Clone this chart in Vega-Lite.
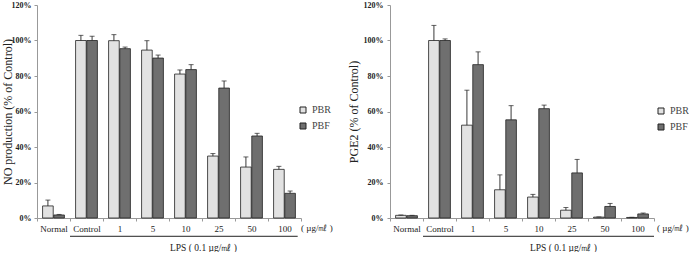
{
  "$schema": "https://vega.github.io/schema/vega-lite/v6.json",
  "padding": {"left": 1, "top": 1, "right": 0, "bottom": 0},
  "background": "white",
  "config": {
    "font": "Liberation Serif",
    "view": {"stroke": null},
    "axis": {"labelFont": "Liberation Serif", "titleFont": "Liberation Serif", "labelColor": "#222", "titleColor": "#222", "domainColor": "#999", "tickColor": "#999", "grid": false},
    "axisY": {"labelOverlap": false, "labelFlush": false, "tickCount": 7, "labelFontSize": 8, "labelFontWeight": "bold", "tickSize": 3},
    "legend": {"labelFont": "Liberation Serif"}
  },
  "datasets": {
    "no": [
      {"dose": "Normal", "sample": "PBR", "value": 6.8, "upper": 10.1},
      {"dose": "Normal", "sample": "PBF", "value": 1.7, "upper": 2.0},
      {"dose": "Control", "sample": "PBR", "value": 100, "upper": 102.9},
      {"dose": "Control", "sample": "PBF", "value": 100, "upper": 102.4},
      {"dose": "1", "sample": "PBR", "value": 99.9, "upper": 103.3},
      {"dose": "1", "sample": "PBF", "value": 95.4, "upper": 96.3},
      {"dose": "5", "sample": "PBR", "value": 94.6, "upper": 99.9},
      {"dose": "5", "sample": "PBF", "value": 90.1, "upper": 91.8},
      {"dose": "10", "sample": "PBR", "value": 81.1, "upper": 83.4},
      {"dose": "10", "sample": "PBF", "value": 83.6, "upper": 86.4},
      {"dose": "25", "sample": "PBR", "value": 34.9, "upper": 36.3},
      {"dose": "25", "sample": "PBF", "value": 73.2, "upper": 77.2},
      {"dose": "50", "sample": "PBR", "value": 28.7, "upper": 34.4},
      {"dose": "50", "sample": "PBF", "value": 46.2, "upper": 47.7},
      {"dose": "100", "sample": "PBR", "value": 27.4, "upper": 29.1},
      {"dose": "100", "sample": "PBF", "value": 13.9, "upper": 15.2}
    ],
    "pge2": [
      {"dose": "Normal", "sample": "PBR", "value": 1.5, "upper": 1.7},
      {"dose": "Normal", "sample": "PBF", "value": 1.3, "upper": 1.5},
      {"dose": "Control", "sample": "PBR", "value": 100, "upper": 108.5},
      {"dose": "Control", "sample": "PBF", "value": 100, "upper": 100.9},
      {"dose": "1", "sample": "PBR", "value": 52.3, "upper": 72.0},
      {"dose": "1", "sample": "PBF", "value": 86.4, "upper": 93.6},
      {"dose": "5", "sample": "PBR", "value": 15.9, "upper": 24.3},
      {"dose": "5", "sample": "PBF", "value": 55.3, "upper": 63.3},
      {"dose": "10", "sample": "PBR", "value": 11.8, "upper": 13.3},
      {"dose": "10", "sample": "PBF", "value": 61.6, "upper": 63.6},
      {"dose": "25", "sample": "PBR", "value": 4.4, "upper": 5.9},
      {"dose": "25", "sample": "PBF", "value": 25.4, "upper": 33.0},
      {"dose": "50", "sample": "PBR", "value": 0.5, "upper": 0.6},
      {"dose": "50", "sample": "PBF", "value": 6.5, "upper": 8.2},
      {"dose": "100", "sample": "PBR", "value": 0.3, "upper": 0.4},
      {"dose": "100", "sample": "PBF", "value": 2.3, "upper": 2.8}
    ]
  },
  "spacing": 14,
  "resolve": {"legend": {"color": "independent"}},
  "hconcat": [
    {
      "width": 264,
      "height": 213,
      "layer": [
        {
          "data": {"name": "no"},
          "mark": {"type": "bar", "stroke": "#222", "strokeWidth": 0.8},
          "encoding": {
            "x": {"field": "dose", "type": "nominal", "scale": {"domain": ["Normal", "Control", "1", "5", "10", "25", "50", "100"], "paddingInner": 0, "paddingOuter": 0},
              "axis": {"title": "LPS ( 0.1 µg/㎖ )", "titleFontSize": 9.5, "titleFontWeight": "normal", "titleX": 166, "titleY": 29, "titleBaseline": "middle", "labelAngle": 0, "labelFontSize": 9, "tickBand": "extent", "tickSize": 3, "labelPadding": 3}},
            "xOffset": {"field": "sample", "type": "nominal", "scale": {"domain": ["PBR", "PBF"], "paddingOuter": 0.5, "paddingInner": 0.05}},
            "y": {"field": "value", "type": "quantitative", "scale": {"domain": [0, 120], "nice": false},
              "axis": {"title": "NO production (% of Control)", "titleFontSize": 12, "titleFontWeight": "normal", "titleX": -30, "titleBaseline": "middle", "values": [0, 20, 40, 60, 80, 100, 120], "labelExpr": "datum.value + '%'", "labelOverlap": false, "labelPadding": 3}},
            "color": {"field": "sample", "type": "nominal", "scale": {"domain": ["PBR", "PBF"], "range": ["#e2e2e2", "#6f6f6f"]},
              "legend": {"title": null, "orient": "none", "legendX": 261, "legendY": 100, "symbolType": "square", "symbolSize": 36, "symbolStrokeColor": "#222", "symbolStrokeWidth": 1, "labelFontSize": 10, "labelColor": "#444", "rowPadding": 6, "labelOffset": 4}}
          }
        },
        {
          "data": {"name": "no"},
          "mark": {"type": "rule", "color": "#222", "strokeWidth": 0.9},
          "encoding": {
            "x": {"field": "dose", "type": "nominal"},
            "xOffset": {"field": "sample", "type": "nominal"},
            "y": {"field": "value", "type": "quantitative"},
            "y2": {"field": "upper"}
          }
        },
        {
          "data": {"name": "no"},
          "mark": {"type": "tick", "color": "#222", "size": 5, "thickness": 1, "orient": "horizontal"},
          "encoding": {
            "x": {"field": "dose", "type": "nominal"},
            "xOffset": {"field": "sample", "type": "nominal"},
            "y": {"field": "upper", "type": "quantitative"}
          }
        },
        {
          "data": {"values": [{}]},
          "mark": {"type": "rule", "color": "#222", "strokeWidth": 1},
          "encoding": {
            "x": {"datum": "Control", "type": "nominal", "bandPosition": 0},
            "x2": {"datum": "100", "bandPosition": 0.9},
            "y": {"datum": -10.3, "type": "quantitative"}
          }
        },
        {
          "data": {"values": [{"unit": "( µg/㎖ )"}]},
          "mark": {"type": "text", "align": "left", "baseline": "middle", "fontSize": 9, "dx": 0, "color": "#222"},
          "encoding": {
            "x": {"datum": "100", "type": "nominal", "bandPosition": 1},
            "y": {"datum": -5.8, "type": "quantitative"},
            "text": {"field": "unit"}
          }
        }
      ]
    },
    {
      "width": 264,
      "height": 213,
      "layer": [
        {
          "data": {"name": "pge2"},
          "mark": {"type": "bar", "stroke": "#222", "strokeWidth": 0.8},
          "encoding": {
            "x": {"field": "dose", "type": "nominal", "scale": {"domain": ["Normal", "Control", "1", "5", "10", "25", "50", "100"], "paddingInner": 0, "paddingOuter": 0},
              "axis": {"title": "LPS ( 0.1 µg/㎖ )", "titleFontSize": 9.5, "titleFontWeight": "normal", "titleX": 173, "titleY": 29, "titleBaseline": "middle", "labelAngle": 0, "labelFontSize": 9, "tickBand": "extent", "tickSize": 3, "labelPadding": 3}},
            "xOffset": {"field": "sample", "type": "nominal", "scale": {"domain": ["PBR", "PBF"], "paddingOuter": 0.5, "paddingInner": 0.05}},
            "y": {"field": "value", "type": "quantitative", "scale": {"domain": [0, 120], "nice": false},
              "axis": {"title": "PGE2 (% of Control)", "titleFontSize": 12, "titleFontWeight": "normal", "titleX": -37, "titleBaseline": "middle", "values": [0, 20, 40, 60, 80, 100, 120], "labelExpr": "datum.value + '%'", "labelOverlap": false, "labelPadding": 4}},
            "color": {"field": "sample", "type": "nominal", "scale": {"domain": ["PBR", "PBF"], "range": ["#e2e2e2", "#6f6f6f"]},
              "legend": {"title": null, "orient": "none", "legendX": 266, "legendY": 101, "symbolType": "square", "symbolSize": 36, "symbolStrokeColor": "#222", "symbolStrokeWidth": 1, "labelFontSize": 10, "labelColor": "#444", "rowPadding": 6, "labelOffset": 4}}
          }
        },
        {
          "data": {"name": "pge2"},
          "mark": {"type": "rule", "color": "#222", "strokeWidth": 0.9},
          "encoding": {
            "x": {"field": "dose", "type": "nominal"},
            "xOffset": {"field": "sample", "type": "nominal"},
            "y": {"field": "value", "type": "quantitative"},
            "y2": {"field": "upper"}
          }
        },
        {
          "data": {"name": "pge2"},
          "mark": {"type": "tick", "color": "#222", "size": 5, "thickness": 1, "orient": "horizontal"},
          "encoding": {
            "x": {"field": "dose", "type": "nominal"},
            "xOffset": {"field": "sample", "type": "nominal"},
            "y": {"field": "upper", "type": "quantitative"}
          }
        },
        {
          "data": {"values": [{}]},
          "mark": {"type": "rule", "color": "#222", "strokeWidth": 1},
          "encoding": {
            "x": {"datum": "Control", "type": "nominal", "bandPosition": 0},
            "x2": {"datum": "100", "bandPosition": 1},
            "y": {"datum": -10.3, "type": "quantitative"}
          }
        },
        {
          "data": {"values": [{"unit": "( µg/㎖ )"}]},
          "mark": {"type": "text", "align": "left", "baseline": "middle", "fontSize": 9, "dx": 3, "color": "#222"},
          "encoding": {
            "x": {"datum": "100", "type": "nominal", "bandPosition": 1},
            "y": {"datum": -5.8, "type": "quantitative"},
            "text": {"field": "unit"}
          }
        }
      ]
    }
  ]
}
